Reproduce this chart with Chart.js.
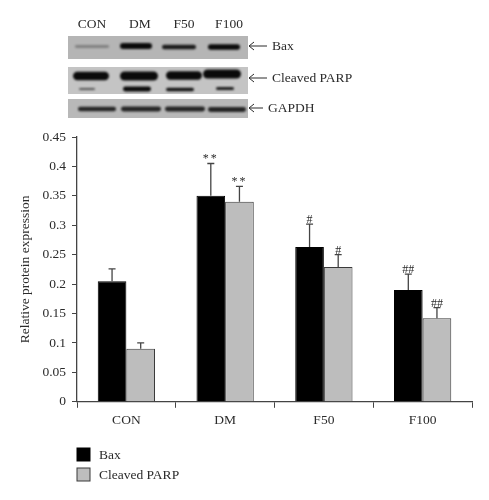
<!DOCTYPE html>
<html>
<head>
<meta charset="utf-8">
<style>
html, body { margin: 0; padding: 0; background: #fff; }
#wrap { width: 489px; height: 500px; }
</style>
<script src="https://cdn.jsdelivr.net/npm/chart.js@4/dist/chart.umd.min.js"></script>
</head>
<body>
<div id="wrap"><canvas id="chart"></canvas></div>
<script>
const categories = ['CON', 'DM', 'F50', 'F100'];
const baxValues = [0.205, 0.35, 0.263, 0.19];
const parpValues = [0.09, 0.34, 0.229, 0.142];
const baxErrorTops = [0.226, 0.405, 0.302, 0.217];
const parpErrorTops = [0.1, 0.366, 0.25, 0.16];
const baxMarks = ['', '**', '#', '##'];
const parpMarks = ['', '**', '#', '##'];
const errorTops = [baxErrorTops, parpErrorTops];
const marks = [baxMarks, parpMarks];

const serif = '"Liberation Serif", serif';
const inkColor = '#2b2b2b';
const axisColor = '#444';

// the western blot strip above the chart: [center x, center y, half width, half height, darkness]
const blotPanels = [
    { x: 68, y: 36, w: 180, h: 23, bg: '#b5b5b5', bands: [
        [92, 46.5, 17, 1.4, 0.3], [136, 46, 16, 3, 1], [179, 47, 17, 2.2, 0.9], [224, 47, 16, 2.8, 1]
    ]},
    { x: 68, y: 67, w: 180, h: 27, bg: '#c4c4c4', bands: [
        [91, 76, 18, 4.2, 1], [139, 76, 19, 4.6, 1], [184, 75.5, 18, 4.2, 1], [222, 74, 19, 4.6, 1],
        [87, 89, 8, 1, 0.6], [137, 89, 14, 2.4, 1], [180, 89.5, 14, 1.8, 0.95], [225, 88.5, 9, 1.5, 0.9]
    ]},
    { x: 68, y: 99, w: 180, h: 19, bg: '#b8b8b8', bands: [
        [97, 109, 19, 2.2, 0.85], [141, 109, 20, 2.4, 0.85], [185, 109, 20, 2.4, 0.85], [227, 109.5, 19, 2.4, 0.85]
    ]}
];
const blotColumns = [['CON', 92], ['DM', 140], ['F50', 184], ['F100', 229]];
const blotArrows = [['Bax', 248, 46, 272], ['Cleaved PARP', 248, 78, 272], ['GAPDH', 248, 108, 268]];

const blotPlugin = {
    id: 'blot',
    afterDraw(chart) {
        const ctx = chart.ctx;
        ctx.save();
        blotPanels.forEach(p => {
            ctx.filter = 'blur(0.6px)';
            ctx.fillStyle = p.bg;
            ctx.fillRect(p.x, p.y, p.w, p.h);
            ctx.filter = 'blur(1.2px)';
            p.bands.forEach(b => {
                ctx.fillStyle = `rgba(10,10,10,${b[4]})`;
                ctx.beginPath();
                ctx.roundRect(b[0] - b[2], b[1] - b[3], b[2] * 2, b[3] * 2, b[3]);
                ctx.fill();
            });
        });
        ctx.filter = 'none';
        ctx.fillStyle = inkColor;
        ctx.font = '13.5px ' + serif;
        ctx.textBaseline = 'middle';
        ctx.textAlign = 'center';
        blotColumns.forEach(c => ctx.fillText(c[0], c[1], 24));
        ctx.textAlign = 'left';
        blotArrows.forEach(a => {
            ctx.strokeStyle = inkColor;
            ctx.lineWidth = 1;
            ctx.beginPath();
            ctx.moveTo(a[3] - 5, a[2]);
            ctx.lineTo(a[1] + 1, a[2]);
            ctx.moveTo(a[1] + 6, a[2] - 4);
            ctx.lineTo(a[1] + 1, a[2]);
            ctx.lineTo(a[1] + 6, a[2] + 4);
            ctx.stroke();
            ctx.fillText(a[0], a[3], a[2]);
        });
        ctx.restore();
    }
};

// error bars, significance marks and the stacked legend
const annotationPlugin = {
    id: 'annotations',
    afterDatasetsDraw(chart) {
        const ctx = chart.ctx;
        const y = chart.scales.y;
        ctx.save();
        chart.data.datasets.forEach((ds, i) => {
            chart.getDatasetMeta(i).data.forEach((bar, j) => {
                const top = y.getPixelForValue(errorTops[i][j]);
                ctx.strokeStyle = axisColor;
                ctx.lineWidth = 1.3;
                ctx.beginPath();
                ctx.moveTo(bar.x, bar.y);
                ctx.lineTo(bar.x, top);
                ctx.moveTo(bar.x - 3.5, top);
                ctx.lineTo(bar.x + 3.5, top);
                ctx.stroke();
                if (marks[i][j]) {
                    ctx.fillStyle = inkColor;
                    ctx.font = '12px ' + serif;
                    ctx.letterSpacing = marks[i][j] === '**' ? '2px' : '0px';
                    ctx.textAlign = 'center';
                    ctx.textBaseline = 'alphabetic';
                    ctx.fillText(marks[i][j], bar.x, top - 1);
                    ctx.letterSpacing = '0px';
                }
            });
        });
        chart.data.datasets.forEach((ds, i) => {
            const ly = 448 + i * 20;
            ctx.fillStyle = ds.backgroundColor;
            ctx.strokeStyle = ds.borderColor;
            ctx.lineWidth = 1;
            ctx.fillRect(77, ly, 13, 13);
            ctx.strokeRect(77, ly, 13, 13);
            ctx.fillStyle = inkColor;
            ctx.font = '13.5px ' + serif;
            ctx.textAlign = 'left';
            ctx.textBaseline = 'middle';
            ctx.fillText(ds.label, 99, ly + 7);
        });
        ctx.restore();
    }
};

new Chart(document.getElementById('chart'), {
    type: 'bar',
    data: {
        labels: categories,
        datasets: [
            { label: 'Bax', data: baxValues, backgroundColor: '#000000', borderColor: '#000000', borderWidth: 1, categoryPercentage: 0.58, barPercentage: 1 },
            { label: 'Cleaved PARP', data: parpValues, backgroundColor: '#bdbdbd', borderColor: '#3a3a3a', borderWidth: 1, categoryPercentage: 0.58, barPercentage: 1 }
        ]
    },
    options: {
        responsive: true,
        maintainAspectRatio: false,
        animation: false,
        layout: { padding: { top: 137, right: 17, bottom: 66, left: 17 } },
        scales: {
            x: {
                grid: { display: true, drawOnChartArea: false, drawTicks: true, tickLength: 6, color: axisColor, lineWidth: 1 },
                border: { color: axisColor, width: 1.3 },
                ticks: { color: inkColor, font: { family: serif, size: 13.5 }, padding: 5, maxRotation: 0 }
            },
            y: {
                min: 0,
                max: 0.45,
                afterFit: scale => { scale.width = 60; },
                grid: { display: true, drawOnChartArea: false, drawTicks: true, tickLength: 5, color: axisColor, lineWidth: 1 },
                border: { color: axisColor, width: 1.3 },
                title: { display: true, text: 'Relative protein expression', color: inkColor, font: { family: serif, size: 13.5 }, padding: 0 },
                ticks: {
                    stepSize: 0.05,
                    color: inkColor,
                    font: { family: serif, size: 13.5 },
                    padding: 6,
                    callback: v => String(+v.toFixed(2))
                }
            }
        },
        plugins: {
            legend: { display: false },
            title: { display: false },
            tooltip: { enabled: false }
        }
    },
    plugins: [blotPlugin, annotationPlugin]
});
</script>
</body>
</html>
